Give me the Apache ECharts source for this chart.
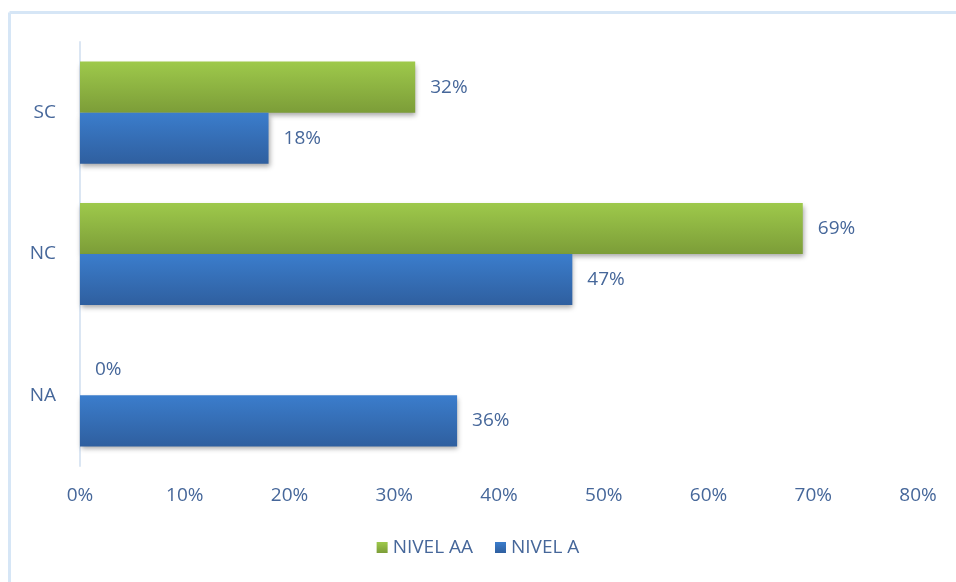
<!DOCTYPE html>
<html>
<head>
<meta charset="utf-8">
<script src="https://cdn.jsdelivr.net/npm/echarts@6/dist/echarts.min.js"></script>
<style>html,body{margin:0;padding:0;background:#fff}#c{width:956px;height:582px}</style>
</head>
<body>
<div id="c"></div>
<script>
const categories = ['NA', 'NC', 'SC'];
const nivelA = [36, 47, 18];
const nivelAA = [0, 69, 32];
const seriesNames = ['NIVEL AA', 'NIVEL A'];
const xMax = 80;
const xInterval = 10;

const txt = '#46679a';
const font = '"Open Sans", "Noto Sans", sans-serif';
const chart = echarts.init(document.getElementById('c'), null, {renderer: 'canvas'});
const grad = (a, b) => new echarts.graphic.LinearGradient(0, 0, 0, 1, [{offset: 0, color: a}, {offset: 1, color: b}]);
const label = {show: true, position: 'right', distance: 15, formatter: '{c}%', color: txt, fontSize: 19, fontFamily: font};
chart.setOption({
  animation: false,
  backgroundColor: '#fff',
  graphic: [
    {type: 'line', shape: {x1: 9.5, y1: 12.5, x2: 956, y2: 12.5}, style: {stroke: '#d6e6f6', lineWidth: 3}},
    {type: 'line', shape: {x1: 9.5, y1: 12.5, x2: 9.5, y2: 582}, style: {stroke: '#d6e6f6', lineWidth: 3}}
  ],
  grid: {left: 80, right: 38, top: 42, bottom: 116, containLabel: false},
  legend: {
    data: seriesNames, bottom: 20, left: 'center', itemWidth: 11, itemHeight: 11, itemGap: 22,
    icon: 'rect', textStyle: {color: txt, fontSize: 19, fontFamily: font}
  },
  xAxis: {
    type: 'value', min: 0, max: xMax, interval: xInterval,
    axisLabel: {formatter: '{value}%', color: txt, fontSize: 19, fontFamily: font, margin: 20},
    axisLine: {show: false}, axisTick: {show: false}, splitLine: {show: false}
  },
  yAxis: {
    type: 'category', data: categories,
    axisLabel: {color: txt, fontSize: 19, fontFamily: font, margin: 24},
    axisLine: {show: true, lineStyle: {color: '#dbe6f3', width: 2}}, axisTick: {show: false}
  },
  series: [
    {
      name: 'NIVEL AA', type: 'bar', data: nivelAA, barGap: '0%', barCategoryGap: '27.7%',
      itemStyle: {color: grad('#9ec94b', '#7c9d38'), shadowColor: 'rgba(0,0,0,0.35)', shadowBlur: 5, shadowOffsetY: 3, shadowOffsetX: 1},
      label: label
    },
    {
      name: 'NIVEL A', type: 'bar', data: nivelA, barGap: '0%', barCategoryGap: '27.7%',
      itemStyle: {color: grad('#3b7dcc', '#2f5f9f'), shadowColor: 'rgba(0,0,0,0.35)', shadowBlur: 5, shadowOffsetY: 3, shadowOffsetX: 1},
      label: label
    }
  ]
});
</script>
</body>
</html>
